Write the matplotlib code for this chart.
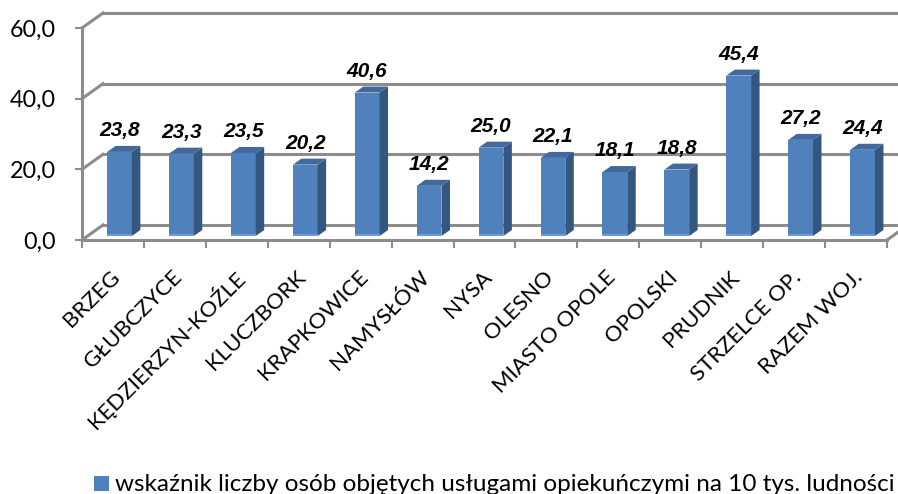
import numpy as np
import matplotlib.pyplot as plt
from matplotlib.lines import Line2D
from matplotlib.patches import Polygon, Rectangle
from matplotlib.transforms import ScaledTranslation, IdentityTransform

labels = ['BRZEG', 'GŁUBCZYCE', 'KĘDZIERZYN-KOŹLE', 'KLUCZBORK', 'KRAPKOWICE',
          'NAMYSŁÓW', 'NYSA', 'OLESNO', 'MIASTO OPOLE', 'OPOLSKI', 'PRUDNIK',
          'STRZELCE OP.', 'RAZEM WOJ.']
values = [23.8, 23.3, 23.5, 20.2, 40.6, 14.2, 25.0, 22.1, 18.1, 18.8, 45.4, 27.2, 24.4]
yticks = [0, 20, 40, 60]
series_name = 'wskaźnik liczby osób objętych usługami opiekuńczymi na 10 tys. ludności'

grid = '#8c8c8c'
front = '#4f81bd'
top_c = '#41699e'
side_c = '#34577f'
foot_c = '#6d9bd6'

# pseudo 3d depth, in pixels (figure is 100 dpi)
WALL = np.array([21.0, 15.0])
SHIFT = np.array([6.5, 4.0])
DEPTH = np.array([8.5, 6.0])

fig = plt.figure(figsize=(8.98, 4.94), dpi=100)
ax = fig.add_axes([82 / 898, 254 / 494, 805 / 898, 212 / 494])
n = len(labels)
ax.set_xlim(0, n)
ax.set_ylim(0, 60)
ax.patch.set_visible(False)

for s in ['top', 'right']:
    ax.spines[s].set_visible(False)
for s in ['left', 'bottom']:
    ax.spines[s].set_color(grid)
    ax.spines[s].set_linewidth(2.2)

ax.set_yticks(yticks)
ax.set_yticklabels([('%.1f' % v).replace('.', ',') for v in yticks])
ax.tick_params(axis='y', length=5, width=1.5, color=grid, pad=14, labelsize=16.8)
for t in ax.get_yticklabels():
    t.set_fontfamily('Lato')

ax.set_xticks(np.arange(n + 1))
ax.set_xticklabels([])
ax.tick_params(axis='x', which='major', length=6, width=1.5, color=grid)
x = np.arange(n) + 0.5

# category names, rotated under the floor
lab_off = ScaledTranslation(4 / 100, -34 / 100, fig.dpi_scale_trans)
for xi, name in zip(x, labels):
    ax.text(xi, 0, name, transform=ax.transData + lab_off, rotation=45,
            rotation_mode='anchor', ha='right', va='center',
            fontfamily='Lato', fontsize=16)


def pt(px, py, k=0.0):
    return ax.transData.transform((px, py)) + k * WALL


# back wall, left wall and floor lines
for v in yticks:
    a, b = pt(0, v, 1), pt(n, v, 1)
    ax.add_line(Line2D([a[0], b[0]], [a[1], b[1]], color=grid, lw=2.2,
                       transform=IdentityTransform(), clip_on=False, zorder=1))
    c = pt(0, v)
    ax.add_line(Line2D([c[0], a[0]], [c[1], a[1]], color=grid, lw=2.2,
                       transform=IdentityTransform(), clip_on=False, zorder=1))
c, a = pt(n, 0), pt(n, 0, 1)
ax.add_line(Line2D([c[0], a[0]], [c[1], a[1]], color=grid, lw=2.2,
                   transform=IdentityTransform(), clip_on=False, zorder=1))

shift = ScaledTranslation(SHIFT[0] / 100, SHIFT[1] / 100, fig.dpi_scale_trans)
bars = ax.bar(x, values, width=0.4, color=front, zorder=3,
              transform=ax.transData + shift)
ax.set_xlim(0, n)
ax.set_ylim(0, 60)

for r in bars:
    vs = r.get_verts()
    x0, y0 = vs[:, 0].min(), vs[:, 1].min()
    x1, y1 = vs[:, 0].max(), vs[:, 1].max()
    dx, dy = DEPTH
    side = [(x1, y0), (x1, y1), (x1 + dx, y1 + dy), (x1 + dx, y0 + dy)]
    top = [(x0, y1), (x1, y1), (x1 + dx, y1 + dy), (x0 + dx, y1 + dy)]
    foot = [(x0, y0), (x1, y0), (x1, y0 + 2.5), (x0, y0 + 2.5)]
    for poly, col in [(side, side_c), (top, top_c), (foot, foot_c)]:
        ax.add_patch(Polygon(poly, closed=True, facecolor=col, edgecolor='none',
                             transform=IdentityTransform(), clip_on=False,
                             zorder=3))

for xi, v in zip(x, values):
    ax.annotate(('%.1f' % v).replace('.', ','), xy=(xi, v),
                xytext=(SHIFT[0] * 0.72, 20 * 0.72), textcoords='offset points',
                ha='center', va='baseline', fontsize=15, fontweight='bold',
                fontstyle='italic', fontfamily='Liberation Sans', zorder=5)

# legend: square key and series name at the bottom
fig.add_artist(Rectangle((94 / 898, 3 / 494), 15 / 898, 15 / 494,
                         transform=fig.transFigure, facecolor=front, edgecolor='none'))
fig.text(115 / 898, 3.5 / 494, series_name, ha='left', va='baseline',
         fontfamily='Lato', fontsize=17.5)

fig.savefig('out.png', dpi=100)
